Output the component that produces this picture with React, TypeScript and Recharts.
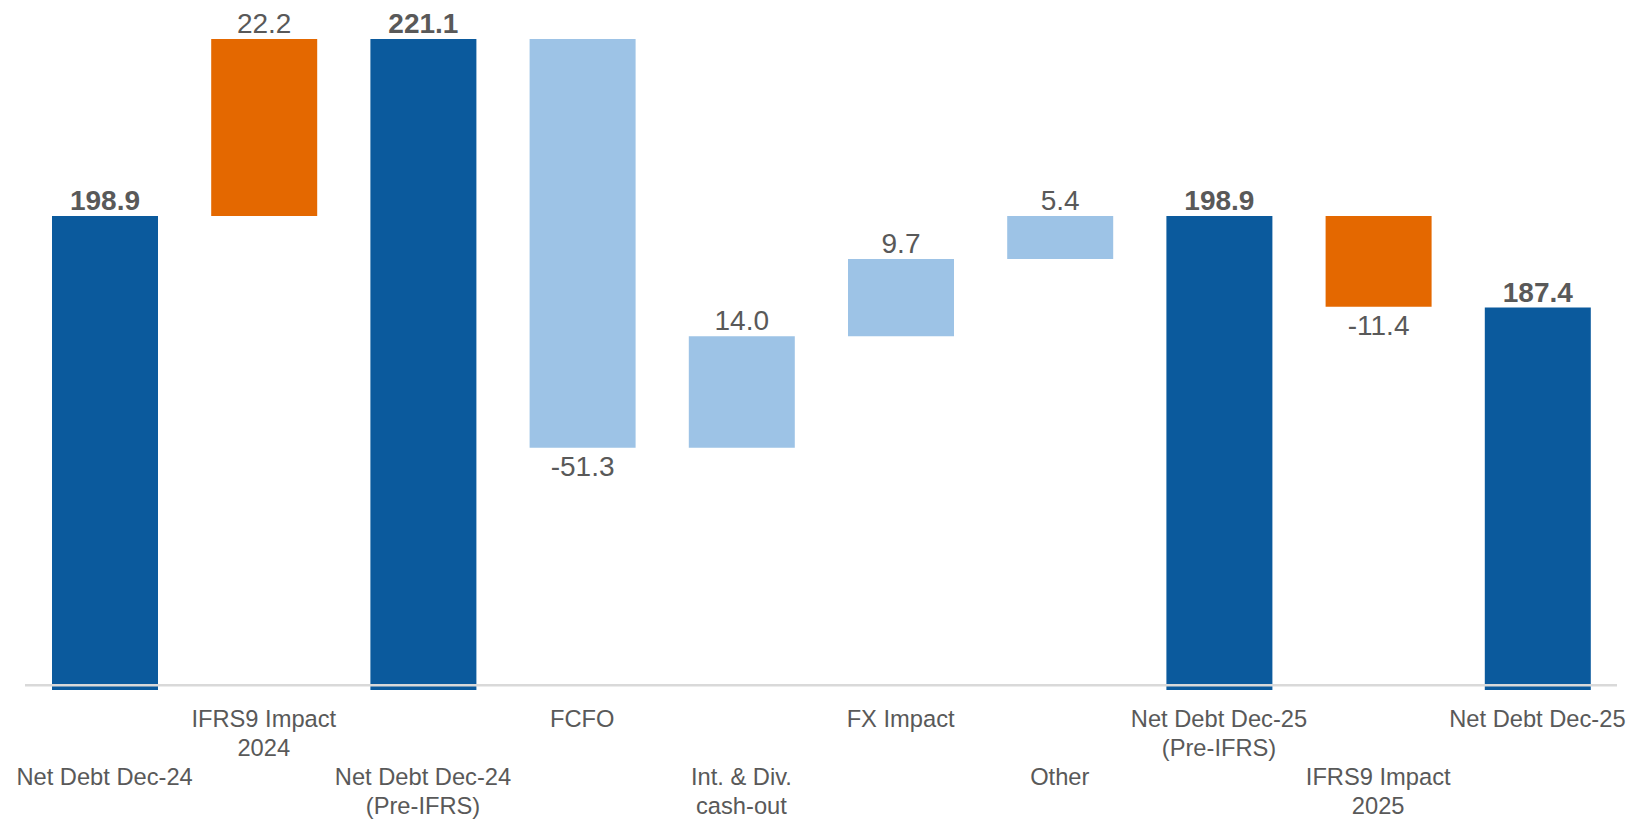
import React from 'react';
import { BarChart, Bar, XAxis, YAxis, Cell, LabelList, ReferenceLine } from 'recharts';

const categories = [
  'Net Debt Dec-24',
  'IFRS9 Impact 2024',
  'Net Debt Dec-24 (Pre-IFRS)',
  'FCFO',
  'Int. & Div. cash-out',
  'FX Impact',
  'Other',
  'Net Debt Dec-25 (Pre-IFRS)',
  'IFRS9 Impact 2025',
  'Net Debt Dec-25'
];

const tickLines = [
  ['Net Debt Dec-24'],
  ['IFRS9 Impact', '2024'],
  ['Net Debt Dec-24', '(Pre-IFRS)'],
  ['FCFO'],
  ['Int. & Div.', 'cash-out'],
  ['FX Impact'],
  ['Other'],
  ['Net Debt Dec-25', '(Pre-IFRS)'],
  ['IFRS9 Impact', '2025'],
  ['Net Debt Dec-25']
];

const values = [198.9, 22.2, 221.1, -51.3, 14.0, 9.7, 5.4, 198.9, -11.4, 187.4];
const kinds = ['total', 'ifrs', 'total', 'move', 'move', 'move', 'move', 'total', 'ifrs', 'total'];

const COLORS: Record<string, string> = {
  total: '#0B5A9D',
  ifrs: '#E46800',
  move: '#9DC3E6'
};

const FONT = '"Liberation Sans", Arial, sans-serif';
const TEXT = '#595959';

// running total -> [low, high] ranges for the floating bars
const chartData = (() => {
  let running = 0;
  return categories.map((name, i) => {
    const v = values[i];
    let range: [number, number];
    if (kinds[i] === 'total') {
      range = [0, v];
      running = v;
    } else {
      const next = running + v;
      range = [Math.min(running, next), Math.max(running, next)];
      running = next;
    }
    return { name, range };
  });
})();

const CategoryTick = (props: any) => {
  const { x, y, payload } = props;
  const i = payload.index;
  const lines = tickLines[i] || [];
  const firstBaseline = i % 2 === 0 ? 95.3 : 37.3;
  return (
    <g>
      {lines.map((line, k) => (
        <text
          key={k}
          x={x}
          y={y + firstBaseline + k * 28.4}
          textAnchor="middle"
          fontFamily={FONT}
          fontSize={23.7}
          fill={TEXT}
        >
          {line}
        </text>
      ))}
    </g>
  );
};

const ValueLabel = (props: any) => {
  const { x, y, width, height, index } = props;
  if (index == null) return null;
  const v = values[index];
  const top = Math.min(y, y + height);
  const bottom = Math.max(y, y + height);
  const cx = x + width / 2;
  const isTotal = kinds[index] === 'total';
  return (
    <text
      x={cx}
      y={v < 0 ? bottom + 28 : top - 6}
      textAnchor="middle"
      fontFamily={FONT}
      fontSize={28}
      fontWeight={isTotal ? 'bold' : 'normal'}
      fill={TEXT}
    >
      {v.toFixed(1)}
    </text>
  );
};

export default function App() {
  return (
    <div style={{ position: 'absolute', left: 0, top: 0, background: '#fff' }}>
      <BarChart
        width={1630}
        height={819}
        data={chartData}
        margin={{ top: 8, right: 13, left: 25, bottom: 19 }}
      >
        <XAxis
          dataKey="name"
          interval={0}
          axisLine={false}
          tickLine={false}
          tickSize={0}
          tickMargin={0}
          height={110}
          tick={<CategoryTick />}
        />
        <YAxis hide domain={[139.4, 225]} allowDataOverflow />
        <Bar dataKey="range" barSize={106} isAnimationActive={false}>
          {chartData.map((d, i) => (
            <Cell key={d.name} fill={COLORS[kinds[i]]} />
          ))}
          <LabelList dataKey="range" content={<ValueLabel />} />
        </Bar>
        <ReferenceLine y={140} stroke="#d9d9d9" strokeWidth={2.5} />
      </BarChart>
    </div>
  );
}
